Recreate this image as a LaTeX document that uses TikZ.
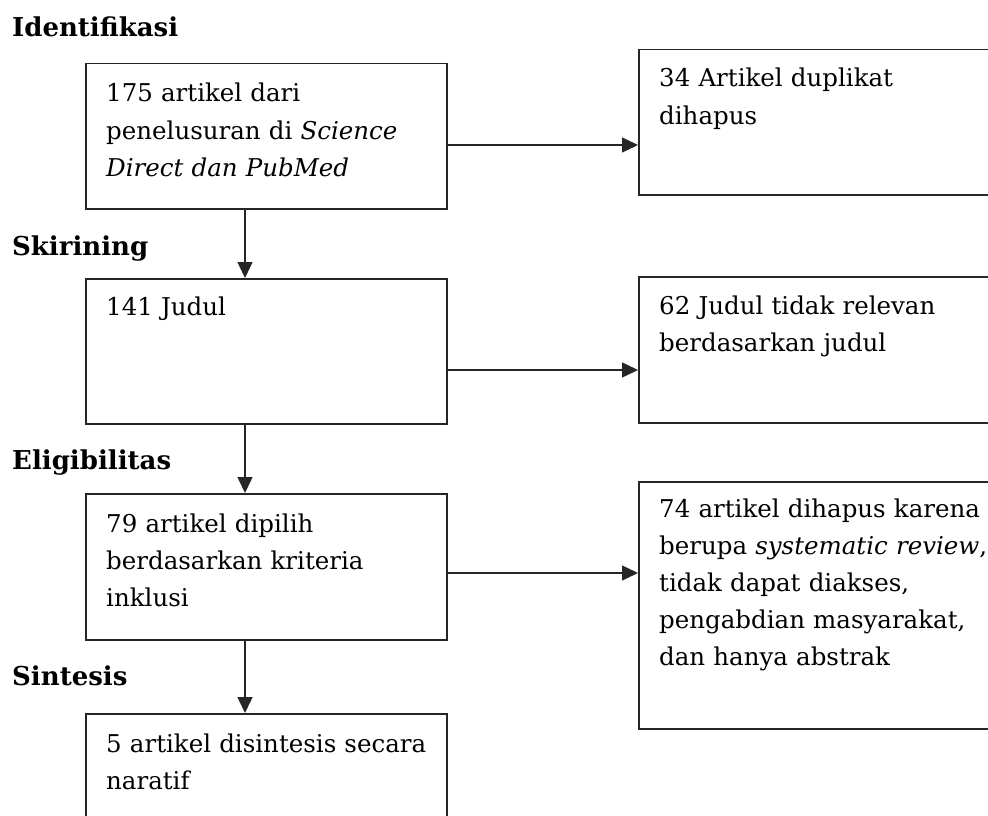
\documentclass[tikz,border=0pt]{standalone}
\usepackage{fontspec}
\setmainfont{DejaVu Serif}
\usetikzlibrary{arrows.meta,calc}
\tikzset{
  box/.style={draw=black!85, line width=1.5pt, rectangle, inner sep=0pt, anchor=north west},
  txt/.style={inner sep=0pt, anchor=base west, text width=400pt, align=left,
    font=\fontsize{24.5pt}{37pt}\selectfont},
  head/.style={inner sep=0pt, anchor=base west, font=\fontsize{26pt}{30pt}\selectfont\bfseries},
  arr/.style={draw=black!85, line width=1.5pt, -{Triangle[length=16pt,width=15pt]}}
}
\begin{document}
\begin{tikzpicture}[x=1pt,y=1pt]
\useasboundingbox (0,0) rectangle (988,-816);
\clip (0,0) rectangle (988,-816);
% headings
\node[head] (h1) at (12,-37) {Identifikasi};
\node[head] (h2) at (12,-255) {Skirining};
\node[head] (h3) at (12,-469) {Eligibilitas};
\node[head] (h4) at (12,-685) {Sintesis};
% left boxes
\node[box, minimum width=361pt, minimum height=145pt] (b1) at (85,-63) {};
\node[box, minimum width=361pt, minimum height=145pt] (b2) at (85,-278) {};
\node[box, minimum width=361pt, minimum height=146pt] (b3) at (85,-493) {};
\node[box, minimum width=361pt, minimum height=150pt] (b4) at (85,-713) {};
% right boxes
\node[box, minimum width=380pt, minimum height=145pt] (r1) at (638,-49) {};
\node[box, minimum width=380pt, minimum height=146pt] (r2) at (638,-276) {};
\node[box, minimum width=380pt, minimum height=247pt] (r3) at (638,-481) {};
% texts
\node[txt] (t1) at ($(b1.north west)+(21,-39)$) {175 artikel dari\\ penelusuran di \textit{Science}\\ \textit{Direct dan PubMed}};
\node[txt] (t2) at ($(b2.north west)+(21,-37)$) {141 Judul};
\node[txt] (t3) at ($(b3.north west)+(21,-39)$) {79 artikel dipilih\\ berdasarkan kriteria\\ inklusi};
\node[txt] (t4) at ($(b4.north west)+(21,-39)$) {5 artikel disintesis secara\\ naratif};
\node[txt] (s1) at ($(r1.north west)+(21,-38)$) {34 Artikel duplikat\\ dihapus};
\node[txt] (s2) at ($(r2.north west)+(21,-38)$) {62 Judul tidak relevan\\ berdasarkan judul};
\node[txt] (s3) at ($(r3.north west)+(21,-36)$) {74 artikel dihapus karena\\ berupa \textit{systematic review},\\ tidak dapat diakses,\\ pengabdian masyarakat,\\ dan hanya abstrak};
% connector guides
\coordinate (vx) at (245,0);
\coordinate (y1) at (0,-145);
\coordinate (y2) at (0,-370);
\coordinate (y3) at (0,-573);
% vertical arrows
\draw[arr] (b1.south -| vx) -- (b2.north -| vx);
\draw[arr] (b2.south -| vx) -- (b3.north -| vx);
\draw[arr] (b3.south -| vx) -- (b4.north -| vx);
% horizontal arrows
\draw[arr] (b1.east |- y1) -- (r1.west |- y1);
\draw[arr] (b2.east |- y2) -- (r2.west |- y2);
\draw[arr] (b3.east |- y3) -- (r3.west |- y3);
\end{tikzpicture}
\end{document}
